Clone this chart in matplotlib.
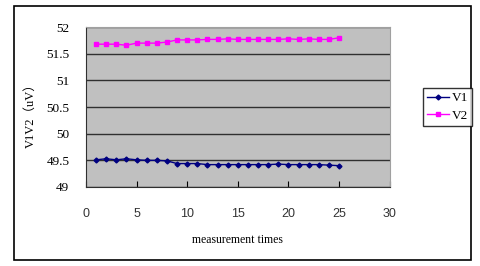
import numpy as np
import matplotlib.pyplot as plt
from matplotlib.patches import Rectangle

times = np.arange(1, 26)
v1 = [49.51, 49.53, 49.51, 49.53, 49.51, 49.50, 49.50, 49.49, 49.44, 49.44,
      49.44, 49.42, 49.42, 49.42, 49.42, 49.42, 49.42, 49.42, 49.43, 49.42,
      49.42, 49.42, 49.42, 49.41, 49.40]
v2 = [51.68, 51.68, 51.68, 51.66, 51.70, 51.70, 51.70, 51.72, 51.76, 51.76,
      51.76, 51.77, 51.77, 51.78, 51.77, 51.77, 51.77, 51.77, 51.77, 51.78,
      51.77, 51.78, 51.77, 51.77, 51.80]
yticks = [49, 49.5, 50, 50.5, 51, 51.5, 52]
xticks = [0, 5, 10, 15, 20, 25, 30]

fig = plt.figure(figsize=(4.8, 2.66), dpi=100)
fig.patches.append(Rectangle((0.029, 0.023), 0.952, 0.954, transform=fig.transFigure,
                             fill=False, edgecolor='black', linewidth=1.2))

ax = fig.add_axes([0.179, 0.297, 0.633, 0.601])
ax.set_facecolor('#c0c0c0')
ax.plot(times, v1, color='#000080', marker='D', markersize=2.5, linewidth=1, label='V1')
ax.plot(times, v2, color='#ff00ff', marker='s', markersize=3.5, linewidth=1, label='V2')

ax.set_xlim(0, 30)
ax.set_ylim(49, 52)
ax.set_xticks(xticks)
ax.set_yticks(yticks)
ax.set_yticklabels([f'{t:g}' for t in yticks], family='Liberation Serif', fontsize=9.5)
ax.set_xticklabels([str(t) for t in xticks], family='Liberation Sans', fontsize=9, color='#333333')
ax.yaxis.grid(True, color='#303030', linewidth=1)
ax.set_axisbelow(True)
ax.tick_params(axis='x', direction='in', length=4, pad=15)
ax.tick_params(axis='y', length=0, pad=12)
for s in ['top', 'right']:
    ax.spines[s].set_color('#a0a0a0')
for s in ['left', 'bottom']:
    ax.spines[s].set_color('#303030')

ax.set_xlabel('measurement times', family='Liberation Serif', fontsize=8.5, labelpad=10)
fig.text(0.063, 0.575, 'V1V2（uV）', rotation=90, ha='center', va='center',
         family=['Liberation Serif', 'Noto Sans CJK SC'], fontsize=9)

leg = fig.legend(loc='center', bbox_to_anchor=(0.932, 0.598), prop={'family': 'Liberation Serif', 'size': 9.5},
                 frameon=True, fancybox=False, edgecolor='black', handlelength=1.7,
                 borderpad=0.3, labelspacing=0.4, handletextpad=0.2, borderaxespad=0)
leg.get_frame().set_linewidth(1)

fig.savefig('out.png', dpi=100)
